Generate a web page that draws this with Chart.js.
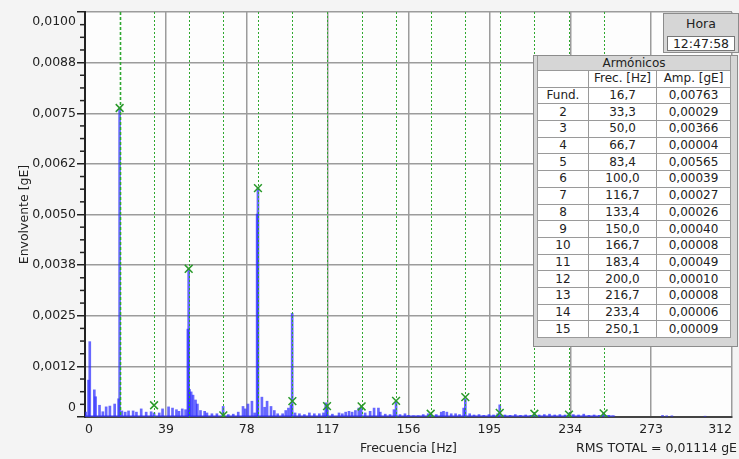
<!DOCTYPE html>
<html>
<head>
<meta charset="utf-8">
<script src="https://cdn.jsdelivr.net/npm/chart.js@4.4.1/dist/chart.umd.min.js"></script>
<style>
  body { margin:0; background:#f4f4f4; overflow:hidden; }
  #caja { position:relative; width:739px; height:459px; overflow:hidden; }
  #hora { position:absolute; left:663px; top:13px; width:74px; height:38px; background:#d6d6d6;
          border:1px solid #8c8c8c; font:12.5px "DejaVu Sans"; color:#222; text-align:center; }
  #hora .tit { height:20px; line-height:20px; }
  #hora .val { position:absolute; left:3px; top:22px; width:66px; height:13px; line-height:13px;
               background:#fff; border:1px solid #777; }
  #armonicos { position:absolute; left:533px; top:55px; width:203px; height:290px; background:#d6d6d6;
               border:1px solid #8c8c8c; }
  #tabla { position:absolute; left:3px; top:0; border-collapse:collapse; font:12px "DejaVu Sans"; color:#222; }
  #tabla td { border:1px solid #9a9a9a; background:#fff; padding:0; text-align:center; height:15.7px; line-height:15px; }
  #tabla td.tit { background:#d6d6d6; height:14px; line-height:14px; border-top:none; }
</style>
</head>
<body>
<div id="caja">
  <canvas id="espectro" width="739" height="459"></canvas>
  <div id="hora"><div class="tit">Hora</div><div class="val" id="horaVal"></div></div>
  <div id="armonicos"><table id="tabla"></table></div>
</div>
<script>
// espectro de envolvente (Hz / gE)
var frecEspectro = [0.3, 1.7, 2.3, 4.5, 5.1, 7.0, 8.6, 10.2, 12.0, 14.3, 16.2, 16.7, 17.8, 19.4, 21.0, 23.2, 24.8, 27.1, 29.5, 31.9,
  33.3, 35.8, 37.4, 40.3, 42.2, 44.1, 45.3, 46.9, 48.5, 49.6, 50.0, 50.4, 51.2, 52.1, 53.3, 54.2, 55.7, 57.7, 58.8, 61.2,
  63.6, 66.6, 69.1, 71.5, 73.9, 76.2, 77.3, 78.6, 80.5, 81.8, 83.0, 83.4, 85.3, 86.6, 87.8, 89.7, 91.3, 92.9, 95.3, 96.8,
  98.1, 99.3, 99.9, 101.3, 103.4, 105.8, 108.2, 110.6, 113.0, 115.0, 116.1, 116.8, 119.3, 122.5, 124.1, 125.7, 127.3, 128.8, 130.4, 132.0,
  133.2, 135.1, 137.5, 139.4, 141.5, 142.4, 144.8, 147.1, 149.0, 150.0, 151.9, 154.3, 156.0, 158.4, 160.7, 163.1, 165.5, 166.8, 169.4, 171.8,
  172.9, 174.5, 176.6, 178.7, 180.6, 182.6, 183.4, 185.5, 187.6, 190.0, 192.3, 194.8, 197.0, 199.0, 200.0, 202.5, 205.0, 207.5, 210.0, 212.5,
  215.0, 216.7, 219.0, 221.5, 224.0, 226.5, 229.0, 231.5, 233.4, 235.5, 238.0, 240.5, 243.0, 245.5, 248.0, 250.1, 252.5, 255.0, 278.5, 280.5,
  283.0, 299.0];
var ampEspectro = [0.00012, 0.00091, 0.00186, 0.00067, 0.00050, 0.00029, 0.00013, 0.00025, 0.00027, 0.00032, 0.00045, 0.00763, 0.00015, 0.00012, 0.00015, 0.00015, 0.00012, 0.00020, 0.00012, 0.00013,
  0.00010, 0.00010, 0.00020, 0.00025, 0.00022, 0.00018, 0.00014, 0.00020, 0.00018, 0.00217, 0.00366, 0.00068, 0.00062, 0.00054, 0.00042, 0.00032, 0.00016, 0.00014, 0.00010, 0.00008,
  0.00008, 0.00026, 0.00006, 0.00007, 0.00012, 0.00026, 0.00020, 0.00032, 0.00039, 0.00010, 0.00501, 0.00565, 0.00049, 0.00024, 0.00039, 0.00026, 0.00016, 0.00008, 0.00008, 0.00016,
  0.00022, 0.00030, 0.00256, 0.00010, 0.00008, 0.00006, 0.00010, 0.00008, 0.00008, 0.00010, 0.00035, 0.00030, 0.00007, 0.00010, 0.00008, 0.00012, 0.00014, 0.00012, 0.00016, 0.00022,
  0.00026, 0.00010, 0.00014, 0.00022, 0.00022, 0.00012, 0.00007, 0.00006, 0.00018, 0.00037, 0.00006, 0.00008, 0.00004, 0.00003, 0.00003, 0.00006, 0.00008, 0.00008, 0.00006, 0.00012,
  0.00014, 0.00012, 0.00008, 0.00008, 0.00006, 0.00022, 0.00045, 0.00008, 0.00005, 0.00006, 0.00004, 0.00006, 0.00005, 0.00008, 0.00030, 0.00005, 0.00004, 0.00006, 0.00004, 0.00005,
  0.00004, 0.00008, 0.00005, 0.00006, 0.00007, 0.00005, 0.00006, 0.00005, 0.00010, 0.00006, 0.00005, 0.00007, 0.00004, 0.00005, 0.00004, 0.00009, 0.00004, 0.00003, 0.00004, 0.00003,
  0.00003, 0.00002];
// piso de ruido
var pisoFrec = [0, 255];
var pisoAmp = [0.00005, 0.00005];

// armonicos (tabla)
var armNombres = ['Fund.', '2', '3', '4', '5', '6', '7', '8', '9', '10', '11', '12', '13', '14', '15'];
var armFrec = [16.7, 33.3, 50.0, 66.7, 83.4, 100.0, 116.7, 133.4, 150.0, 166.7, 183.4, 200.0, 216.7, 233.4, 250.1];
var armAmp = [0.00763, 0.00029, 0.00366, 0.00004, 0.00565, 0.00039, 0.00027, 0.00026, 0.00040, 0.00008, 0.00049, 0.00010, 0.00008, 0.00006, 0.00009];

var xTicks = [0, 39, 78, 117, 156, 195, 234, 273, 312];
var yTicks = [0, 0.00125, 0.0025, 0.00375, 0.005, 0.00625, 0.0075, 0.00875, 0.01];
var yEtiquetas = ['0', '0,0012', '0,0025', '0,0038', '0,0050', '0,0062', '0,0075', '0,0088', '0,0100'];
var hora = '12:47:58';
var textoRms = 'RMS TOTAL = 0,01114 gE';

var fuente = '"DejaVu Sans"';

// tabla de armonicos y hora
document.getElementById('horaVal').textContent = hora;
var html = '<tr><td colspan="3" class="tit">Armónicos</td></tr>' +
  '<tr><td style="width:50px"></td><td style="width:67px">Frec. [Hz]</td><td style="width:73px">Amp. [gE]</td></tr>';
for (var i = 0; i < armFrec.length; i++) {
  html += '<tr><td>' + armNombres[i] + '</td><td>' + armFrec[i].toFixed(1).replace('.', ',') +
    '</td><td>' + armAmp[i].toFixed(5).replace('.', ',') + '</td></tr>';
}
document.getElementById('tabla').innerHTML = html;

var puntosEspectro = frecEspectro.map(function (f, i) { return {x: f, y: ampEspectro[i]}; });
var puntosPiso = pisoFrec.map(function (f, i) { return {x: f, y: pisoAmp[i]}; });
var puntosArm = armFrec.map(function (f, i) { return {x: f, y: armAmp[i]}; });

var decoracion = {
  id: 'decoracion',
  beforeDraw: function (chart) {
    var ctx = chart.ctx, a = chart.chartArea;
    ctx.save();
    ctx.fillStyle = '#f4f4f4';
    ctx.fillRect(0, 0, chart.width, chart.height);
    ctx.fillStyle = '#fdfdfd';
    ctx.fillRect(a.left, a.top, a.right - a.left, a.bottom - a.top);
    ctx.restore();
  },
  afterDatasetDraw: function (chart, args) {
    if (args.index !== 1) return;
    // lineas verdes de armonicos
    var ctx = chart.ctx, a = chart.chartArea, sx = chart.scales.x;
    ctx.save();
    ctx.strokeStyle = '#2fa82f';
    armFrec.forEach(function (f, i) {
      var px = Math.round(sx.getPixelForValue(f)) + 0.5;
      ctx.lineWidth = i === 0 ? 1.6 : 1;
      ctx.setLineDash(i === 0 ? [3, 2] : [2, 2]);
      ctx.beginPath();
      ctx.moveTo(px, a.top);
      ctx.lineTo(px, a.bottom);
      ctx.stroke();
    });
    ctx.restore();
  },
  afterDraw: function (chart) {
    var ctx = chart.ctx, a = chart.chartArea, sy = chart.scales.y;
    ctx.save();
    // marcas menores del eje Y
    ctx.strokeStyle = '#222';
    ctx.lineWidth = 1.5;
    for (var i = 0; i < yTicks.length - 1; i++) {
      for (var k = 1; k < 4; k++) {
        var py = sy.getPixelForValue(yTicks[i] + k * (yTicks[i + 1] - yTicks[i]) / 4);
        ctx.beginPath();
        ctx.moveTo(a.left - 5, py);
        ctx.lineTo(a.left, py);
        ctx.stroke();
      }
    }
    // etiquetas del eje Y
    ctx.fillStyle = '#222';
    ctx.font = '12.5px ' + fuente;
    ctx.textAlign = 'right';
    ctx.textBaseline = 'middle';
    yTicks.forEach(function (v, i) {
      var py = sy.getPixelForValue(v);
      if (i === 0) py -= 9;
      if (i === yTicks.length - 1) py += 10;
      ctx.fillText(yEtiquetas[i], a.left - 9, py);
    });
    // titulos
    ctx.textAlign = 'center';
    ctx.fillText('Frecuencia [Hz]', (a.left + a.right) / 2, 449);
    ctx.textAlign = 'right';
    ctx.fillText(textoRms, 737, 449);
    ctx.translate(25, (a.top + a.bottom) / 2);
    ctx.rotate(-Math.PI / 2);
    ctx.textAlign = 'center';
    ctx.fillText('Envolvente [gE]', 0, 0);
    ctx.restore();
  }
};

var grafico = new Chart(document.getElementById('espectro'), {
  type: 'bar',
  data: {
    datasets: [
      {
        type: 'scatter',
        label: 'Armónicos',
        data: puntosArm,
        order: 0,
        pointStyle: 'crossRot',
        pointRadius: 5.5,
        borderColor: '#2a9a2a',
        backgroundColor: '#2a9a2a',
        borderWidth: 1.5
      },
      {
        type: 'bar',
        label: 'Espectro',
        data: puntosEspectro,
        order: 1,
        barThickness: 2,
        grouped: false,
        backgroundColor: 'rgba(45,45,255,0.72)',
        borderWidth: 0
      },
      {
        type: 'line',
        label: 'Piso',
        data: puntosPiso,
        order: 2,
        fill: 'origin',
        backgroundColor: 'rgba(70,70,255,0.55)',
        borderWidth: 0,
        pointRadius: 0
      }
    ]
  },
  options: {
    responsive: false,
    animation: false,
    layout: { padding: { top: 12, left: 0, right: 0, bottom: 0 } },
    plugins: { legend: { display: false }, tooltip: { enabled: false } },
    scales: {
      x: {
        type: 'linear',
        min: 0,
        max: 312,
        offset: false,
        afterBuildTicks: function (s) { s.ticks = xTicks.map(function (v) { return {value: v}; }); },
        afterFit: function (s) { s.height = 42; s.paddingLeft = 0; s.paddingRight = 0; },
        grid: { color: '#9c9c9c', lineWidth: 1.5, drawTicks: false, offset: false },
        border: { display: true, color: '#444', width: 2 },
        ticks: { align: 'inner', padding: 5, color: '#222', font: { family: 'DejaVu Sans', size: 12.5 }, maxRotation: 0 }
      },
      y: {
        type: 'linear',
        min: 0,
        max: 0.01,
        afterBuildTicks: function (s) { s.ticks = yTicks.map(function (v) { return {value: v}; }); },
        afterFit: function (s) { s.width = 85; s.paddingTop = 0; s.paddingBottom = 0; },
        grid: { color: '#9c9c9c', lineWidth: 1.5, drawTicks: true, tickLength: 8, tickColor: '#222', tickWidth: 1.5 },
        border: { display: true, color: '#222', width: 2 },
        ticks: { display: false }
      }
    }
  },
  plugins: [decoracion]
});
</script>
</body>
</html>
